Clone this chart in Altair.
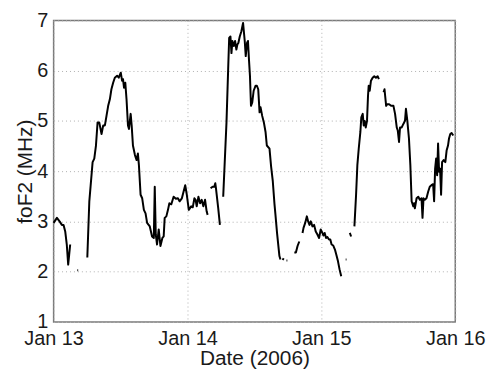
import altair as alt
import pandas as pd

# foF2 observations, hours after 2006-01-13 00:00 and values in MHz, split at data gaps
seg_a_h = [0.0, 0.59, 1.07, 1.48, 1.78, 2.08, 2.36, 2.61, 2.79, 2.97]
seg_a_v = [2.97, 3.07, 3.0, 2.93, 2.93, 2.80, 2.54, 2.14, 2.34, 2.54]

seg_b_h = [4.25, 4.4]
seg_b_v = [2.03, 2.03]

seg_c_h = [6.04, 6.4, 6.99, 7.29, 7.59, 7.88, 8.18, 8.59, 8.89, 9.19, 9.48, 9.78, 10.08,
           10.36, 10.67, 10.97, 11.38, 11.68, 12.04, 12.27, 12.44, 12.62, 12.85, 13.07,
           13.33, 13.51, 13.81, 13.99, 14.22, 14.58, 14.88, 15.11, 15.29, 15.59, 15.88,
           16.18, 16.48, 16.76, 17.24, 17.65, 17.96, 18.13, 18.31, 18.54, 18.84, 19.15,
           19.5, 19.73, 19.91, 20.21, 20.5, 20.75, 21.1, 21.51, 21.92, 22.28, 22.58,
           22.99, 23.29, 23.59, 23.88, 24.23, 24.66, 24.94, 25.24, 25.45, 25.65, 25.96,
           26.26, 26.54, 26.84, 27.15, 27.43, 27.61]
seg_c_v = [2.28, 3.4, 4.18, 4.25, 4.51, 4.97, 4.97, 4.74, 4.91, 4.91, 5.1, 5.3, 5.43,
           5.63, 5.76, 5.86, 5.9, 5.86, 5.96, 5.8, 5.83, 5.66, 5.76, 5.43,
           4.91, 4.84, 5.14, 4.91, 4.51, 4.32, 4.22, 4.35, 4.12, 3.53, 3.46,
           3.23, 3.16, 2.97, 2.9, 2.7, 2.67, 3.69, 2.74, 2.54, 2.84, 2.51,
           2.67, 2.7, 3.07, 3.1, 3.23, 3.36, 3.34, 3.49, 3.45, 3.46, 3.4,
           3.46, 3.59, 3.72, 3.53, 3.23, 3.3, 3.28, 3.46, 3.43, 3.3, 3.49,
           3.36, 3.43, 3.3, 3.43, 3.2, 3.13]

seg_d_h = [28.14, 28.5, 28.8, 28.98, 29.1, 29.51, 29.81]
seg_d_v = [3.66, 3.69, 3.69, 3.76, 3.66, 3.26, 2.93]

seg_e_h = [30.4, 30.99, 31.29, 31.47, 31.7, 31.88, 32.05, 32.3, 32.53, 32.76, 32.94,
           33.12, 33.37, 33.65, 33.96, 34.26, 34.44, 34.67, 34.84, 35.02, 35.2, 35.38,
           35.61, 35.86, 36.21, 36.44, 36.68, 36.92, 37.1, 37.39, 37.69, 37.99, 38.22,
           38.7, 38.99, 39.29, 39.59, 39.77, 40.05, 40.48, 40.66]
seg_e_v = [3.49, 4.97, 6.03, 6.65, 6.68, 6.35, 6.59, 6.49, 6.59, 6.42, 6.52,
           6.55, 6.68, 6.78, 6.95, 6.59, 6.29, 6.55, 6.59, 6.22, 5.89, 5.30,
           5.37, 5.6, 5.7, 5.7, 5.63, 5.17, 5.27, 5.1, 4.97, 4.78, 4.51,
           4.45, 4.09, 3.8, 3.35, 3.13, 2.77, 2.31, 2.24]

seg_f_h = [41.0, 41.3]
seg_f_v = [2.26, 2.24]

seg_g_h = [41.75, 41.9]
seg_g_v = [2.22, 2.22]

seg_h_h = [43.15, 43.43, 43.73, 44.04]
seg_h_v = [2.38, 2.38, 2.51, 2.6]

seg_i_h = [44.62, 44.8, 45.1, 45.39, 45.63, 45.87, 46.1, 46.4, 46.7, 46.99, 47.29, 47.59,
           47.88, 48.18, 48.36, 48.59, 48.84, 49.07, 49.37, 49.6, 49.83, 50.13, 50.43,
           50.67, 50.97, 51.25, 51.56]
seg_i_v = [2.77, 2.87, 2.97, 3.1, 3.0, 2.93, 3.0, 2.9, 2.93, 2.8, 2.74, 2.67,
           2.84, 2.77, 2.72, 2.77, 2.67, 2.69, 2.64, 2.64, 2.54, 2.52, 2.44,
           2.34, 2.21, 2.05, 1.91]

seg_j_h = [52.36, 52.5]
seg_j_v = [2.24, 2.24]

seg_k_h = [53.1, 53.33]
seg_k_v = [2.77, 2.70]

seg_l_h = [53.92, 54.22, 54.45, 54.7, 54.99, 55.16, 55.41, 55.59, 55.77, 55.95, 56.18,
           56.36, 56.48, 56.66, 56.89, 57.19, 57.48, 57.78, 58.08, 58.31]
seg_l_v = [2.9, 3.53, 4.12, 4.45, 4.78, 5.07, 5.14, 4.91, 5.0, 4.87, 5.0,
           5.5, 5.7, 5.6, 5.8, 5.86, 5.89, 5.86, 5.89, 5.83]

seg_m_h = [59.15, 59.32, 59.43, 59.61, 59.79, 60.14, 60.5, 60.92, 61.21, 61.51, 61.69,
           61.92, 62.1, 62.4, 62.7, 62.99, 63.16, 63.41, 63.7, 63.95, 64.18, 64.48,
           64.62, 64.76, 65.07, 65.37, 65.65, 65.95, 66.13, 66.31, 66.54, 66.84,
           67.14, 67.43, 67.73, 68.03, 68.21, 68.39, 68.57, 68.75, 68.92, 69.1,
           69.28, 69.46, 69.64, 69.92, 70.22, 70.45, 70.7, 70.88, 71.11, 71.34, 71.64]
seg_m_v = [5.57, 5.63, 5.5, 5.3, 5.33, 5.33, 5.3, 5.3, 5.14, 4.87, 4.81,
           4.58, 4.87, 4.87, 4.94, 5.0, 5.24, 5.0, 4.65, 4.12, 3.4, 3.3,
           3.36, 3.26, 3.46, 3.49, 3.43, 3.46, 3.07, 3.46, 3.43, 3.46,
           3.59, 3.69, 3.72, 3.74, 3.4, 4.05, 4.25, 3.92, 4.55, 3.99,
           4.05, 3.53, 4.18, 4.22, 4.18, 4.41, 4.51, 4.65, 4.74, 4.76, 4.71]

segments = {
    "a": (seg_a_h, seg_a_v), "b": (seg_b_h, seg_b_v), "c": (seg_c_h, seg_c_v),
    "d": (seg_d_h, seg_d_v), "e": (seg_e_h, seg_e_v), "f": (seg_f_h, seg_f_v),
    "g": (seg_g_h, seg_g_v), "h": (seg_h_h, seg_h_v), "i": (seg_i_h, seg_i_v),
    "j": (seg_j_h, seg_j_v), "k": (seg_k_h, seg_k_v), "l": (seg_l_h, seg_l_v),
    "m": (seg_m_h, seg_m_v),
}

x_ticks = ["2006-01-13", "2006-01-14", "2006-01-15", "2006-01-16"]
y_ticks = [1, 2, 3, 4, 5, 6, 7]

start = pd.Timestamp("2006-01-13")
rows = []
for name, (hs, vs) in segments.items():
    for h, v in zip(hs, vs):
        t = start + pd.Timedelta(hours=h)
        rows.append({"seg": name, "t": t.strftime("%Y-%m-%dT%H:%M:%S"), "v": v})
df = pd.DataFrame(rows)

def dt(s):
    y, m, d = (int(p) for p in s.split("-"))
    return alt.DateTime(year=y, month=m, date=d)

FONT = "Liberation Sans"

chart = alt.Chart(df).mark_line(color="black", strokeWidth=2, strokeJoin="round").encode(
    x=alt.X("t:T",
            scale=alt.Scale(domain=[dt(x_ticks[0]), dt(x_ticks[-1])], nice=False),
            axis=alt.Axis(values=[dt(s) for s in x_ticks], format="%b %d",
                          title="Date (2006)", labelFlush=False, ticks=False,
                          domain=False, labelPadding=7, titlePadding=-1,
                          gridDash=[1, 3], gridColor="#b0b0b0", labelOverlap=False)),
    y=alt.Y("v:Q",
            scale=alt.Scale(domain=[1, 7], nice=False, zero=False),
            axis=alt.Axis(values=y_ticks, title="foF2 (MHz)", ticks=False,
                          domain=False, labelPadding=6, titlePadding=1,
                          gridDash=[1, 3], gridColor="#b0b0b0")),
    detail="seg:N",
).properties(
    width=405, height=304,
    padding={"left": 6, "top": 1, "right": 0, "bottom": 0},
).configure_view(
    stroke="#7a7a7a", strokeWidth=1.5,
).configure_axis(
    labelFont=FONT, titleFont=FONT, labelFontSize=20, titleFontSize=21,
    labelColor="#1a1a1a", titleColor="#1a1a1a", titleFontWeight="normal",
)

chart.save("out.html", embed_options={"renderer": "svg", "actions": False})
